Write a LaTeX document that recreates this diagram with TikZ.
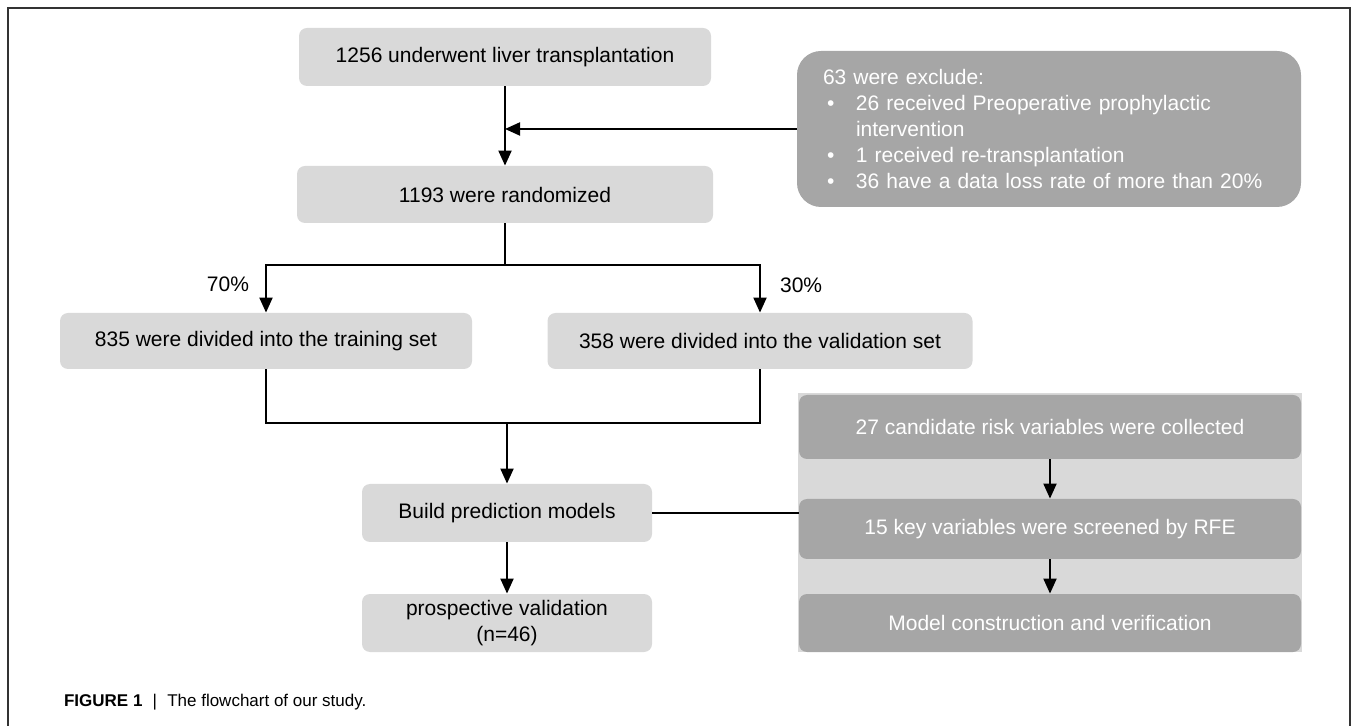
\documentclass[tikz,border=0pt]{standalone}
\usepackage{fontspec}
\setmainfont{Liberation Sans}
\usepackage{tikz}
\usetikzlibrary{arrows.meta, positioning}

\definecolor{boxlight}{HTML}{D9D9D9}
\definecolor{boxdark}{HTML}{A6A6A6}
\newcommand{\bul}{\makebox[16.5pt][l]{\hspace{2pt}\textbullet}}

\begin{document}
\begin{tikzpicture}[x=0.5pt, y=-0.5pt, >={Triangle[width=6.5pt,length=7.5pt]},
    lightbox/.style={fill=boxlight, rounded corners=4pt, inner sep=0pt, align=center,
        font=\fontsize{10.5}{13}\selectfont},
    darkbox/.style={fill=boxdark, rounded corners=4pt, inner sep=0pt, align=center,
        text=white, font=\fontsize{10.5}{13}\selectfont},
    link/.style={line width=1pt}]
    \useasboundingbox (0,0) rectangle (1354,726);
    \draw[line width=0.8pt, black!80] (8,740) -- (8,8) -- (1350,8) -- (1350,740);

    % main flow
    \node[lightbox, minimum width=206pt, minimum height=29pt] (liver) at (505,57) {1256 underwent liver transplantation};
    \node[lightbox, minimum width=208pt, minimum height=28.5pt] (rand) at (505,194.5) {1193 were randomized};
    \node[lightbox, minimum width=206pt, minimum height=28pt] (train) at (266,341) {835 were divided into the training set};
    \node[lightbox, minimum width=212.5pt, minimum height=28pt] (valid) at (760,341) {358 were divided into the validation set};
    \node[lightbox, minimum width=145pt, minimum height=29pt] (build) at (507,513) {Build prediction models};
    \node[lightbox, minimum width=145pt, minimum height=29pt] (prosp) at (507,623) {prospective validation\\(n=46)};

    % exclusions
    \node[darkbox, rounded corners=12pt, align=left, text width=226pt, inner xsep=13pt,
        minimum height=78pt] (excl) at (1049,129) {63 were exclude:\\
        \bul 26 received Preoperative prophylactic\\
        \hspace*{16.5pt}intervention\\
        \bul 1 received re-transplantation\\
        \bul 36 have a data loss rate of more than 20\%};

    % modelling panel
    \fill[boxlight] (798,393) rectangle (1302,652);
    \node[darkbox, minimum width=251pt, minimum height=32pt] (collect) at (1050,427) {27 candidate risk variables were collected};
    \node[darkbox, minimum width=251pt, minimum height=30pt] (screen) at (1050,529) {15 key variables were screened by RFE};
    \node[darkbox, minimum width=251pt, minimum height=29pt] (verify) at (1050,623) {Model construction and verification};

    \coordinate (split) at (505,265);
    \coordinate (merge) at (507,423);

    \draw[link,->] (liver) -- (rand);
    \draw[link,->] (excl.west) -- (excl.west -| liver.south);
    \draw[link] (rand.south) -- (split);
    \draw[link,->] (split) -| (train.north);
    \draw[link,->] (split) -| (valid.north);
    \draw[link] (train.south) |- (merge) -| (valid.south);
    \draw[link,->] (merge) -- (build.north);
    \draw[link,->] (build) -- (prosp);
    \draw[link] (build.east) -- (build.east -| screen.west);
    \draw[link,->] (collect) -- (screen);
    \draw[link,->] (screen) -- (verify);

    \node[anchor=east, font=\fontsize{10.5}{13}\selectfont] (pct70) at (256,284) {70\%};
    \node[anchor=west, font=\fontsize{10.5}{13}\selectfont] (pct30) at (773,285) {30\%};

    \node[anchor=west, font=\fontsize{8.5}{10}\selectfont] (caption) at (57,702)
        {\textbf{FIGURE 1}\hspace{0.6em}|\hspace{0.6em}The flowchart of our study.};
\end{tikzpicture}
\end{document}
